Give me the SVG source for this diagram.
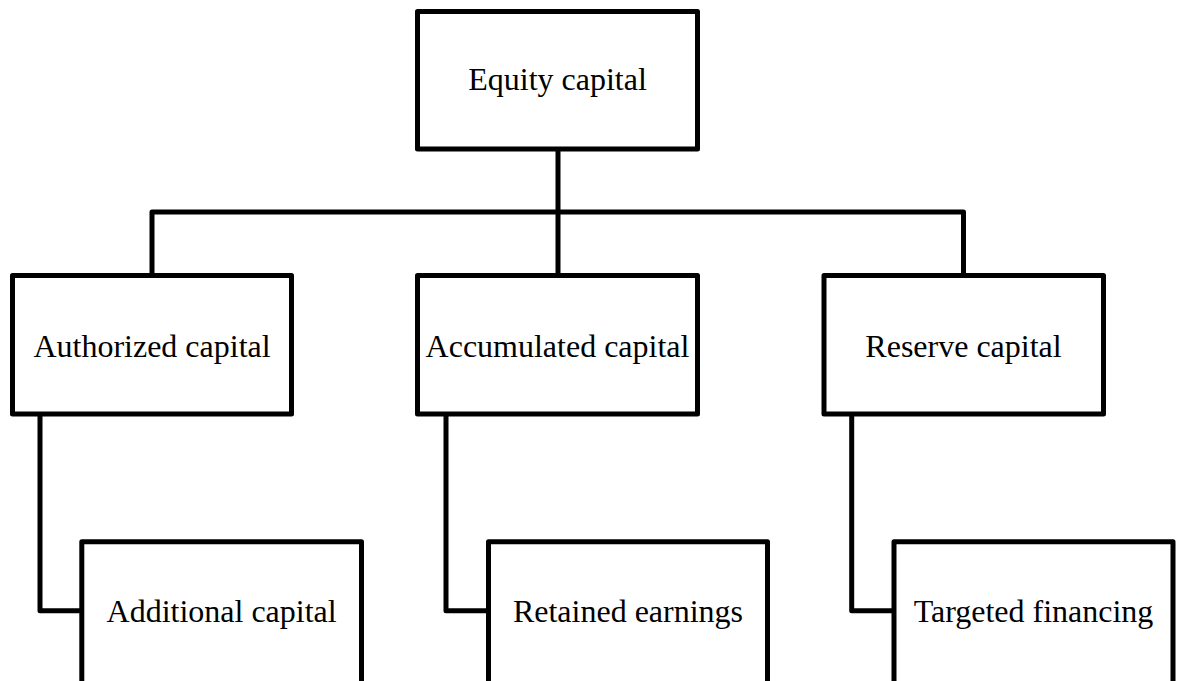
<svg xmlns="http://www.w3.org/2000/svg" width="1178" height="681" viewBox="0 0 1178 681">
<style>
.box{fill:#fff;stroke:#000;stroke-width:5;stroke-linejoin:round}
.edge{fill:none;stroke:#000;stroke-width:5;stroke-linejoin:round}
.lbl{font-family:"Liberation Serif","Times New Roman",serif;font-size:32px;fill:#000;text-anchor:middle}
</style>
<rect width="1178" height="681" fill="#fff"/>
<g id="connectors">
<path class="edge" d="M558,149 V275.5"/>
<path class="edge" d="M152,275.5 V212 H963.5 V275.5"/>
<path class="edge" d="M40,414 V610.7 H82"/>
<path class="edge" d="M446,414 V610.7 H488.5"/>
<path class="edge" d="M851.7,414 V610.7 H894"/>
</g>
<g id="equity">
<rect class="box" x="417.5" y="11.5" width="280" height="137.5"/>
<text class="lbl" x="557.5" y="89.5">Equity capital</text>
</g>
<g id="authorized">
<rect class="box" x="12.5" y="275.5" width="279" height="138.5"/>
<text class="lbl" x="152" y="356.5">Authorized capital</text>
</g>
<g id="accumulated">
<rect class="box" x="417.5" y="275.5" width="280" height="138.5"/>
<text class="lbl" x="557.5" y="356.5">Accumulated capital</text>
</g>
<g id="reserve">
<rect class="box" x="824" y="275.5" width="279.5" height="138.5"/>
<text class="lbl" x="963.5" y="356.5">Reserve capital</text>
</g>
<g id="additional">
<rect class="box" x="81.8" y="541.8" width="279.7" height="160"/>
<text class="lbl" x="221.6" y="621.5">Additional capital</text>
</g>
<g id="retained">
<rect class="box" x="488.5" y="541.8" width="279" height="160"/>
<text class="lbl" x="628" y="621.5">Retained earnings</text>
</g>
<g id="targeted">
<rect class="box" x="894" y="541.8" width="279" height="160"/>
<text class="lbl" x="1033.5" y="621.5">Targeted financing</text>
</g>
</svg>
